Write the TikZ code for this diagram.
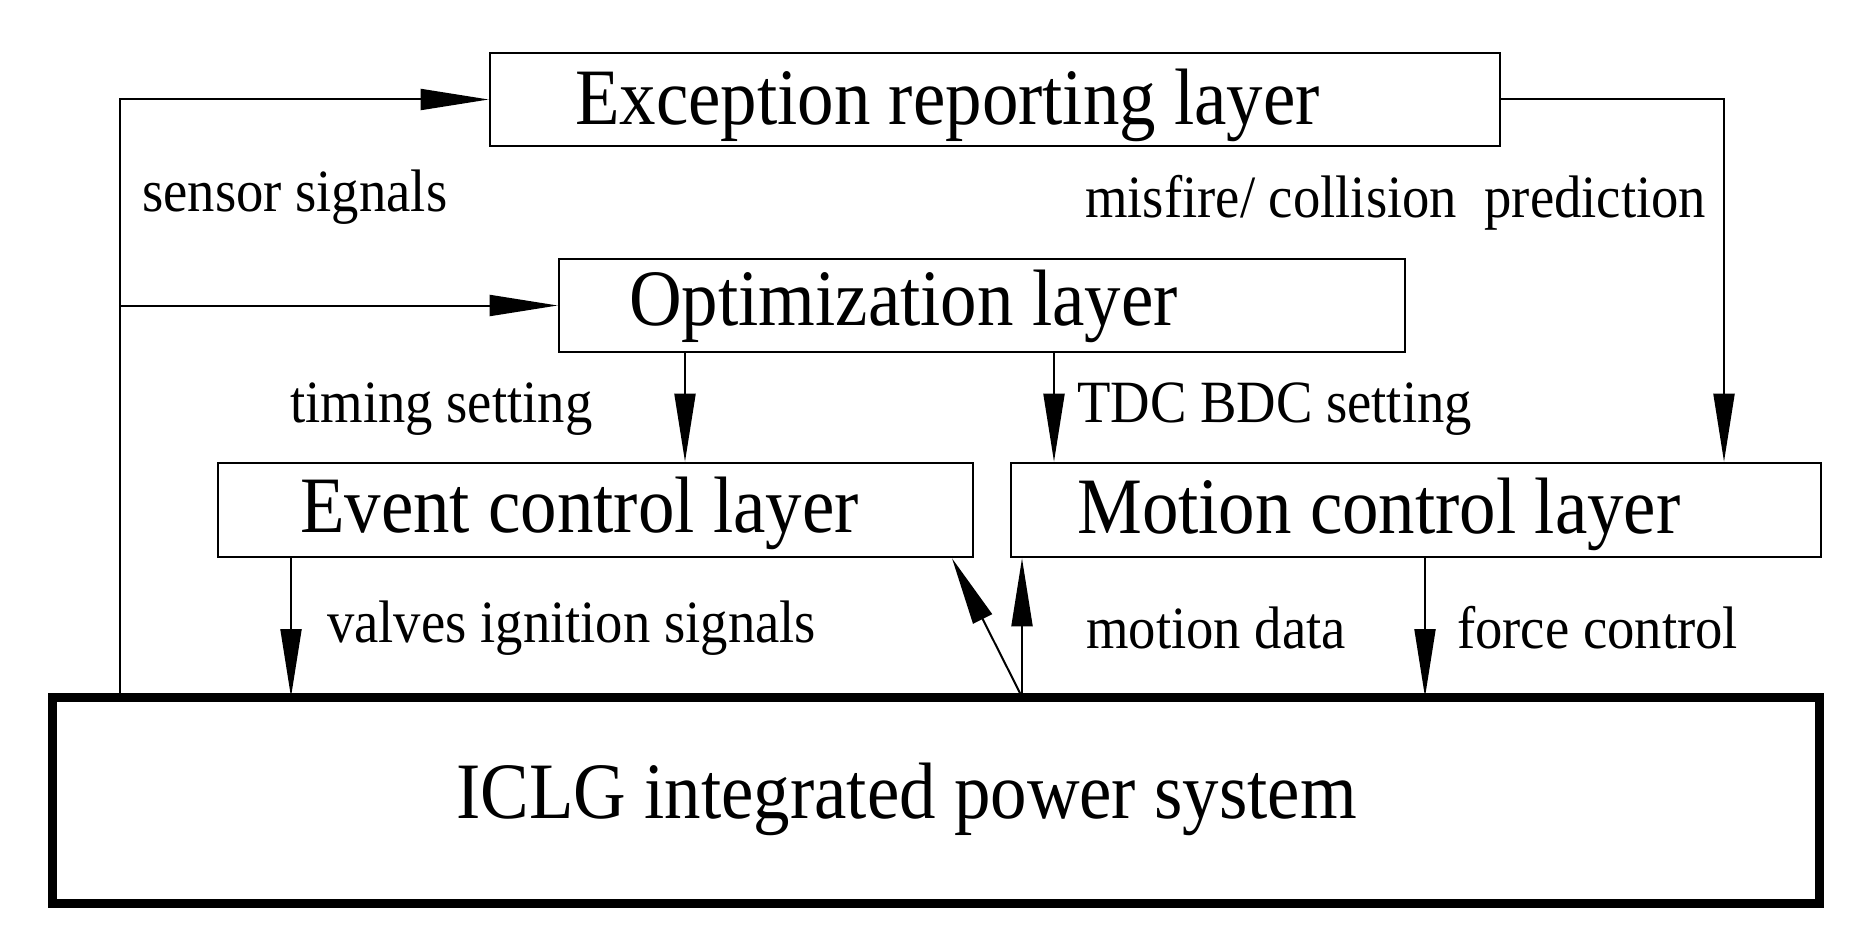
\documentclass[tikz,border=0pt]{standalone}
\usepackage{fontspec}
\setmainfont{Liberation Serif}
\usetikzlibrary{arrows.meta}
\newcommand{\sqz}[1]{\scalebox{0.911}[1]{#1}}
\begin{document}
\begin{tikzpicture}[x=1pt,y=-1pt,
  box/.style={draw=black, line width=2.6pt, rectangle, inner sep=0pt},
  bigbox/.style={draw=black, line width=9pt, rectangle, inner sep=0pt, outer sep=0pt},
  title/.style={inner sep=0pt, anchor=base west, font=\fontsize{80}{96}\selectfont},
  lbl/.style={inner sep=0pt, anchor=base west, font=\fontsize{60}{72}\selectfont},
  conn/.style={draw=black, line width=2pt},
  arr/.style={conn, -{Triangle[length=68pt,width=21pt]}}]
\useasboundingbox (0,0) rectangle (1855,928);
% boxes
\node[box, minimum width=1010, minimum height=93] (exc) at (995,99.5) {};
\node[box, minimum width=846, minimum height=93] (opt) at (982,305.5) {};
\node[box, minimum width=755, minimum height=94] (evt) at (595.5,510) {};
\node[box, minimum width=810, minimum height=94] (mot) at (1416,510) {};
\node[bigbox, minimum width=1767, minimum height=206] (icl) at (935.5,800) {};
% titles
\node[title] (texc) at (575,125) {\sqz{Exception reporting layer}};
\node[title] (topt) at (629,325) {\sqz{Optimization layer}};
\node[title] (tevt) at (300,532) {\sqz{Event control layer}};
\node[title] (tmot) at (1077,533) {\sqz{Motion control layer}};
\node[title] (ticl) at (456,818) {\sqz{ICLG integrated power system}};
% labels
\node[lbl] (lsen) at (142,212) {\sqz{sensor signals}};
\node[lbl] (lmis) at (1085,218) {\sqz{misfire/ collision\ \ prediction}};
\node[lbl] (ltim) at (290,422) {\sqz{timing setting}};
\node[lbl] (ltdc) at (1077,422) {\sqz{TDC BDC setting}};
\node[lbl] (lval) at (327,642) {\sqz{valves ignition signals}};
\node[lbl] (lmd) at (1086,648) {\sqz{motion data}};
\node[lbl] (lfc) at (1457,648) {\sqz{force control}};
% column coordinates
\coordinate (cl) at (120,0);
\coordinate (cr) at (1724,0);
\coordinate (c1) at (685,0);
\coordinate (c2) at (1054,0);
\coordinate (c3) at (291,0);
\coordinate (c4) at (1022,0);
\coordinate (c5) at (1425,0);
\coordinate (cd) at (952,0);
% connectors
\draw[arr] (icl.north -| cl) |- (exc.west);
\draw[arr] (cl |- opt.west) -- (opt.west);
\draw[arr] (exc.east) -| (cr |- mot.north);
\draw[arr] (opt.south -| c1) -- (evt.north -| c1);
\draw[arr] (opt.south -| c2) -- (mot.north -| c2);
\draw[arr] (evt.south -| c3) -- (icl.north -| c3);
\draw[arr] (icl.north -| c4) -- (mot.south -| c4);
\draw[arr] (icl.north -| c4) -- (evt.south -| cd);
\draw[arr] (mot.south -| c5) -- (icl.north -| c5);
\end{tikzpicture}
\end{document}
